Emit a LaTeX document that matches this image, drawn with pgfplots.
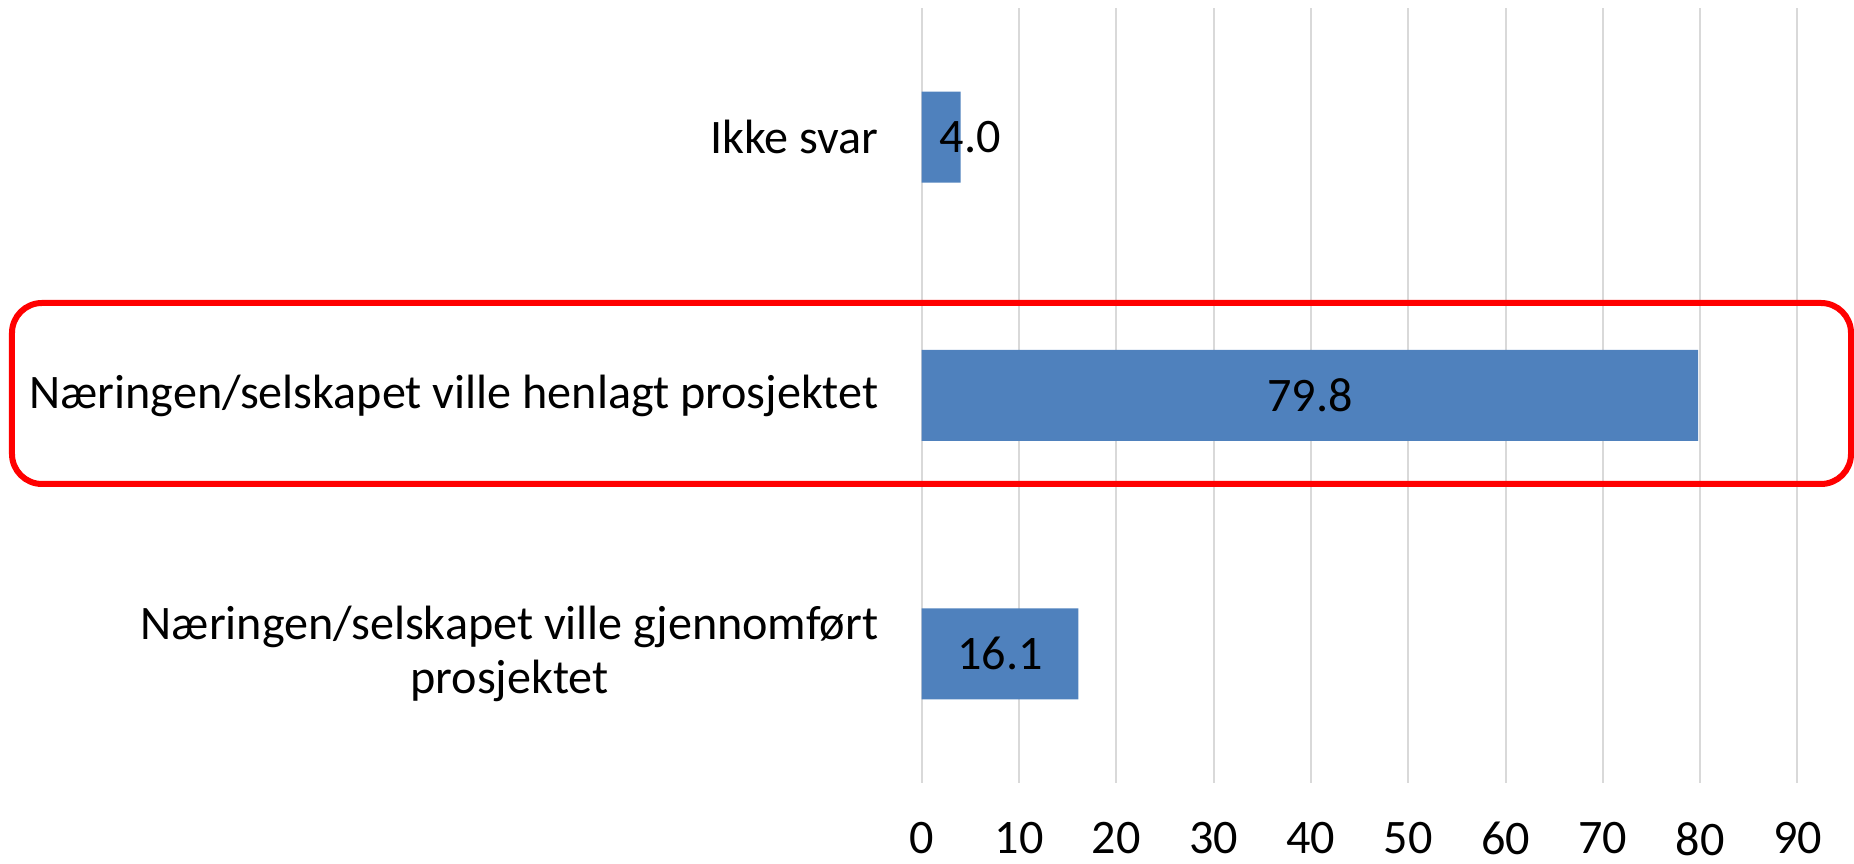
\documentclass[border=0pt]{standalone}
\usepackage{pgfplots}
\pgfplotsset{compat=1.18}
\usepackage{fontspec}
\setmainfont{Carlito}
\definecolor{barblue}{RGB}{79,129,189}
\definecolor{gridgray}{RGB}{217,217,217}
\begin{document}
\begin{tikzpicture}
\useasboundingbox (-9.217,-0.81) rectangle (9.323,7.83);
\begin{axis}[
    at={(0,0)}, anchor=south west,
    scale only axis,
    width=8.758cm, height=7.75cm,
    xmin=0, xmax=90,
    ymin=-0.5, ymax=2.5,
    xtick={0,10,...,90},
    ytick={0,1,2},
    yticklabels={{Næringen/selskapet ville gjennomført\\prosjektet},
                 {Næringen/selskapet ville henlagt prosjektet},
                 {Ikke svar}},
    axis line style={draw=none},
    tick style={draw=none},
    xmajorgrids=true,
    grid style={gridgray, line width=0.57pt},
    tick label style={font=\fontsize{13.7}{15.6}\selectfont},
    /pgf/number format/assume math mode=true,
    yticklabel style={align=center, xshift=-0.31cm},
    xticklabel style={yshift=-0.27cm},
]
\addplot[xbar, bar width=0.91cm, fill=barblue, draw=none]
    coordinates {(16.1,0) (79.8,1) (4.0,2)};
% data labels, centred on the bars
\addplot[draw=none, mark=none, nodes near coords, point meta=explicit symbolic,
    nodes near coords align={center},
    every node near coord/.append style={font=\fontsize{13.7}{15.6}\selectfont, anchor=center}]
    coordinates {(8.05,0)[16.1] (39.9,1)[79.8] (5.0,2)[4.0]};
\end{axis}
\draw[red, line width=0.06cm, rounded corners=0.3cm] (-9.097,2.99) rectangle (9.293,4.80);
\end{tikzpicture}
\end{document}
